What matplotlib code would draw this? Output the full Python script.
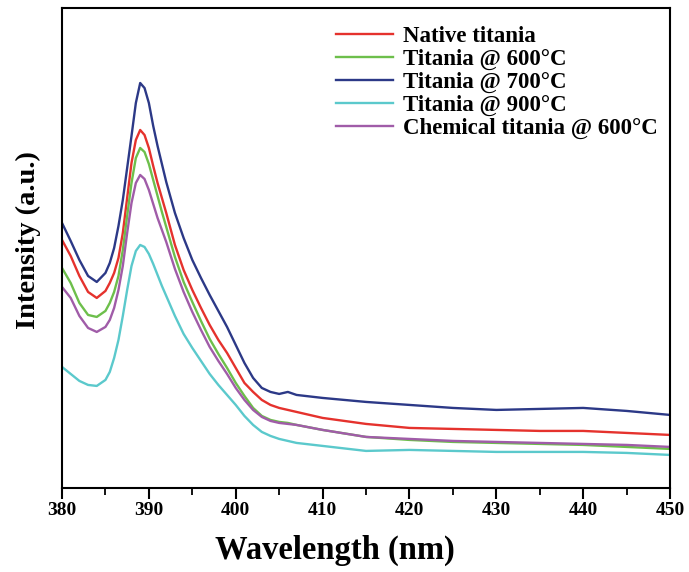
import matplotlib.pyplot as plt
from matplotlib.ticker import MultipleLocator

plt.rcParams['font.family'] = ['Liberation Serif', 'DejaVu Serif']
plt.rcParams['font.weight'] = 'bold'

wavelength = [380, 381, 382, 383, 384, 385, 385.5, 386, 386.5, 387, 387.5,
              388, 388.5, 389, 389.5, 390, 390.5, 391, 391.5, 392, 393, 394,
              395, 396, 397, 398, 399, 400, 401, 402, 403, 404, 405, 406, 407,
              410, 415, 420, 425, 430, 435, 440, 445, 450]

native = [248, 232, 212, 196, 190, 197, 205, 215, 230, 255, 290,
          325, 348, 358, 353, 340, 322, 305, 290, 275, 243, 218,
          198, 180, 163, 148, 135, 120, 105, 96, 88, 83, 80, 78, 76,
          70, 64, 60, 59, 58, 57, 57, 55, 53]
t600 = [220, 205, 185, 173, 171, 177, 185, 196, 212, 238, 272,
        305, 330, 340, 336, 324, 308, 292, 276, 261, 231, 206,
        186, 167, 149, 134, 120, 105, 92, 80, 72, 68, 66, 65, 63,
        58, 51, 48, 46, 45, 44, 43, 41, 39]
t700 = [265, 247, 228, 212, 206, 215, 225, 240, 262, 288, 320,
        352, 385, 405, 400, 385, 362, 342, 324, 306, 275, 250,
        228, 210, 193, 177, 161, 143, 125, 110, 100, 96, 94, 96, 93,
        90, 86, 83, 80, 78, 79, 80, 77, 73]
t900 = [121, 114, 107, 103, 102, 108, 116, 130, 148, 172, 198,
        222, 237, 243, 241, 234, 224, 213, 202, 192, 172, 154,
        140, 127, 114, 103, 93, 83, 72, 63, 56, 52, 49, 47, 45,
        42, 37, 38, 37, 36, 36, 36, 35, 33]
chem600 = [201, 190, 172, 160, 156, 161, 168, 180, 198, 222, 255,
           285, 305, 313, 309, 298, 284, 270, 258, 246, 219, 196,
           176, 158, 141, 127, 114, 100, 88, 78, 71, 67, 65, 64, 63,
           58, 51, 49, 47, 46, 45, 44, 43, 41]

labels = ["Native titania", "Titania @ 600\u00b0C", "Titania @ 700\u00b0C",
          "Titania @ 900\u00b0C", "Chemical titania @ 600\u00b0C"]
colors = ["#e5322d", "#6dbf4b", "#2c3987", "#5bc9cc", "#a05ca8"]

fig = plt.figure(figsize=(6.89, 5.72), dpi=100)
ax = fig.add_axes([0.09, 0.147, 0.8825, 0.839])

for series, label, color in zip([native, t600, t700, t900, chem600], labels, colors):
    ax.plot(wavelength, series, color=color, lw=1.7, label=label)

ax.set_xlim(380, 450)
ax.set_ylim(0, 480)
ax.xaxis.set_major_locator(MultipleLocator(10))
ax.xaxis.set_minor_locator(MultipleLocator(5))
ax.set_yticks([])
ax.tick_params(axis='x', which='major', direction='out', length=8, width=1.5,
               labelsize=14, pad=2)
ax.tick_params(axis='x', which='minor', direction='out', length=5, width=1.3)
for sp in ax.spines.values():
    sp.set_linewidth(1.5)

ax.set_xlabel("Wavelength (nm)", fontsize=23.5, fontweight='bold')
ax.set_ylabel("Intensity (a.u.)", fontsize=20.5, fontweight='bold')
# the labels sit a bit off-centre in the original
ax.xaxis.set_label_coords(0.449, -0.098)
ax.yaxis.set_label_coords(-0.034, 0.517)

ax.legend(loc='upper right', frameon=False, fontsize=16.5, handlelength=2.5,
          handletextpad=0.44, labelspacing=0.08, borderaxespad=0,
          borderpad=0.4, bbox_to_anchor=(0.995, 0.982))

fig.savefig("out.png", dpi=100)
